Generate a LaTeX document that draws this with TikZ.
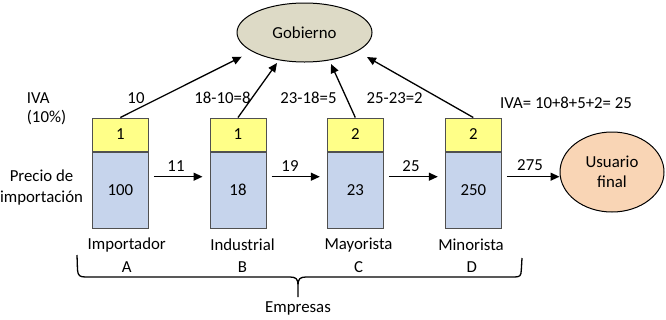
\documentclass[tikz,border=0pt]{standalone}
\usepackage{fontspec}
\setmainfont{Carlito}
\usetikzlibrary{arrows.meta,shapes.geometric}
\definecolor{ivaY}{HTML}{FFFF88}
\definecolor{precB}{HTML}{C6D4EC}
\definecolor{gobC}{HTML}{DDDAC6}
\definecolor{usuC}{HTML}{F9D5B5}
\definecolor{edgeC}{HTML}{505050}
\tikzset{
  txt/.style={font=\fontsize{16.8}{20.5}\selectfont, inner sep=0pt},
  ivabox/.style={txt, draw=edgeC, line width=1pt, fill=ivaY, minimum width=56pt, minimum height=33pt},
  precbox/.style={txt, draw=edgeC, line width=1pt, fill=precB, minimum width=56pt, minimum height=76pt},
  flow/.style={line width=1.3pt, -{Triangle[length=9pt,width=8pt]}},
}
\begin{document}
\begin{tikzpicture}[x=1pt,y=-1pt]
\useasboundingbox (0,0) rectangle (666,319);
% Gobierno
\node[txt, ellipse, draw=black, line width=1pt, fill=gobC, minimum width=135pt, minimum height=59pt] (gob) at (304.5,32.5) {Gobierno};
% Usuario final
\node[txt, ellipse, draw=black, line width=1pt, fill=usuC, minimum width=104pt, minimum height=80pt, align=center] (usu) at (612,172) {Usuario\\final};
% boxes
\foreach \n/\x/\iva/\pr in {a/120.3/1/100, b/238/1/18, c/355.3/2/23, d/473.3/2/250}{
  \node[precbox] (p\n) at (\x,190) {\pr};
  \node[ivabox, anchor=south] (i\n) at (p\n.north) {\iva};
}
% arrow targets on Gobierno
\coordinate (ga) at (241.7,56.7);
\coordinate (gb) at (277,63);
\coordinate (gc) at (331,64);
\coordinate (gd) at (367,57);
\draw[flow] (ia.north) -- (ga);
\draw[flow] (ib.north) -- (gb);
\draw[flow] (ic.north) -- (gc);
\draw[flow] (id.north) -- (gd);
% horizontal flows
\coordinate (fy) at (0,176.7);
\draw[flow] ([xshift=5pt,yshift=13.3pt]pa.east) -- ([xshift=-7pt,yshift=13.3pt]pb.west);
\draw[flow] ([xshift=5pt,yshift=13.3pt]pb.east) -- ([xshift=-7pt,yshift=13.3pt]pc.west);
\draw[flow] ([xshift=5pt,yshift=13.3pt]pc.east) -- ([xshift=-7pt,yshift=13.3pt]pd.west);
\draw[flow] ([xshift=5pt,yshift=13.3pt]pd.east) -- (usu.west |- fy);
% labels
\node[txt] (l11) at (176,166) {11};
\node[txt] (l19) at (290,166) {19};
\node[txt] (l25) at (411,166) {25};
\node[txt] (l275) at (530,165) {275};
\node[txt] (t10) at (136,98) {10};
\node[txt] (t8) at (222.5,98) {18-10=8};
\node[txt] (t5) at (308.5,98) {23-18=5};
\node[txt] (t2) at (394.7,98) {25-23=2};
\node[txt] (tot) at (566,103.3) {IVA= 10+8+5+2= 25};
\node[txt, anchor=west] (iva) at (26.7,98) {IVA};
\node[txt, anchor=west] (pct) at (26.7,118) {(10\%)};
\node[txt, align=center] (prec) at (41.5,187.3) {Precio de\\importación};
% names
\node[txt] (na) at (126.7,245) {Importador};
\node[txt] (la) at (126.7,266.7) {A};
\node[txt] (nb) at (242.5,245) {Industrial};
\node[txt] (lb) at (242.5,266.7) {B};
\node[txt] (nc) at (358.5,245) {Mayorista};
\node[txt] (lc) at (358.5,266.7) {C};
\node[txt] (nd) at (471,245) {Minorista};
\node[txt] (ld) at (471.7,266.7) {D};
% brace
\draw[line width=1.3pt, line join=round]
  (77,255) -- (77.5,270) .. controls (78,276) and (80,277) .. (86,277)
  -- (290,277) .. controls (296,277) and (298,279) .. (298,285) -- (298,297)
  (298,285) .. controls (298,279) and (300,277) .. (306,277)
  -- (514,277) .. controls (520,277) and (521,276) .. (521.3,270) -- (522,258);
\node[txt] (emp) at (298,308) {Empresas};
\end{tikzpicture}
\end{document}
